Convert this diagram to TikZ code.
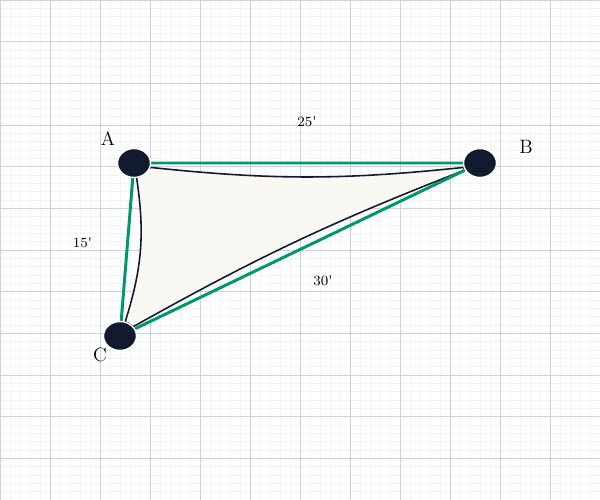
\documentclass[tikz,border=0pt]{standalone}
\usepackage{tikz}
\usetikzlibrary{shapes.geometric,backgrounds}

\definecolor{gridmajor}{HTML}{CAD2DF}
\definecolor{gridminor}{HTML}{F1F3F7}
\definecolor{sidegreen}{HTML}{00976B}
\definecolor{pinnavy}{HTML}{111A2E}
\definecolor{plotfill}{HTML}{F9F8F2}

\tikzset{
  pin/.style={draw=white, line width=0.8pt, fill=pinnavy, ellipse, inner sep=0pt,
    minimum width=0.66cm, minimum height=0.58cm},
  corner/.style={font=\fontsize{11}{13}\selectfont},
  dist/.style={font=\footnotesize},
  side/.style={draw=sidegreen, line width=1.7pt},
  curve/.style={draw=pinnavy, line width=0.9pt}
}

\begin{document}
\begin{tikzpicture}[x=0.02cm, y=-0.02cm]
				\useasboundingbox (0,0) rectangle (600,500);
				\path (134, 163) node[pin] (A){}
				(480, 163) node[pin] (B){}
				(120, 336) node[pin] (C){};
				
				\path (108, 139) node[corner] (lA){A}
				(526, 147) node[corner] (lB){B}
				(100, 355) node[corner] (lC){C};
				
				\begin{pgfonlayer}{background}
				\foreach \x in {0,10,...,600} \draw[gridminor, line width=0.3pt] (\x,0) -- (\x,500);
				\foreach \y in {0,...,60} \draw[gridminor, line width=0.3pt] (0,\y*8.3333) -- (600,\y*8.3333);
				\foreach \x in {0,50,...,600} \draw[gridmajor, line width=0.45pt] (\x,0) -- (\x,500);
				\foreach \y in {0,...,12} \draw[gridmajor, line width=0.45pt] (0,\y*41.6667) -- (600,\y*41.6667);
				
				\path[curve, fill=plotfill] (A.-15) to[bend right=6] (B.195) -- (B.205) to[bend right=4] (C.35)
				-- (C.70) to[bend right=13] (A.-80) -- cycle;
				
				\draw[side] (A) -- node[dist, yshift=0.82cm] {25\textquotesingle} (B)
				(A) -- node[dist, xshift=-0.89cm, yshift=0.14cm] {15\textquotesingle} (C)
				(B) -- node[dist, xshift=0.46cm, yshift=-0.63cm] {30\textquotesingle} (C);
				\end{pgfonlayer}
			\end{tikzpicture}
\end{document}
